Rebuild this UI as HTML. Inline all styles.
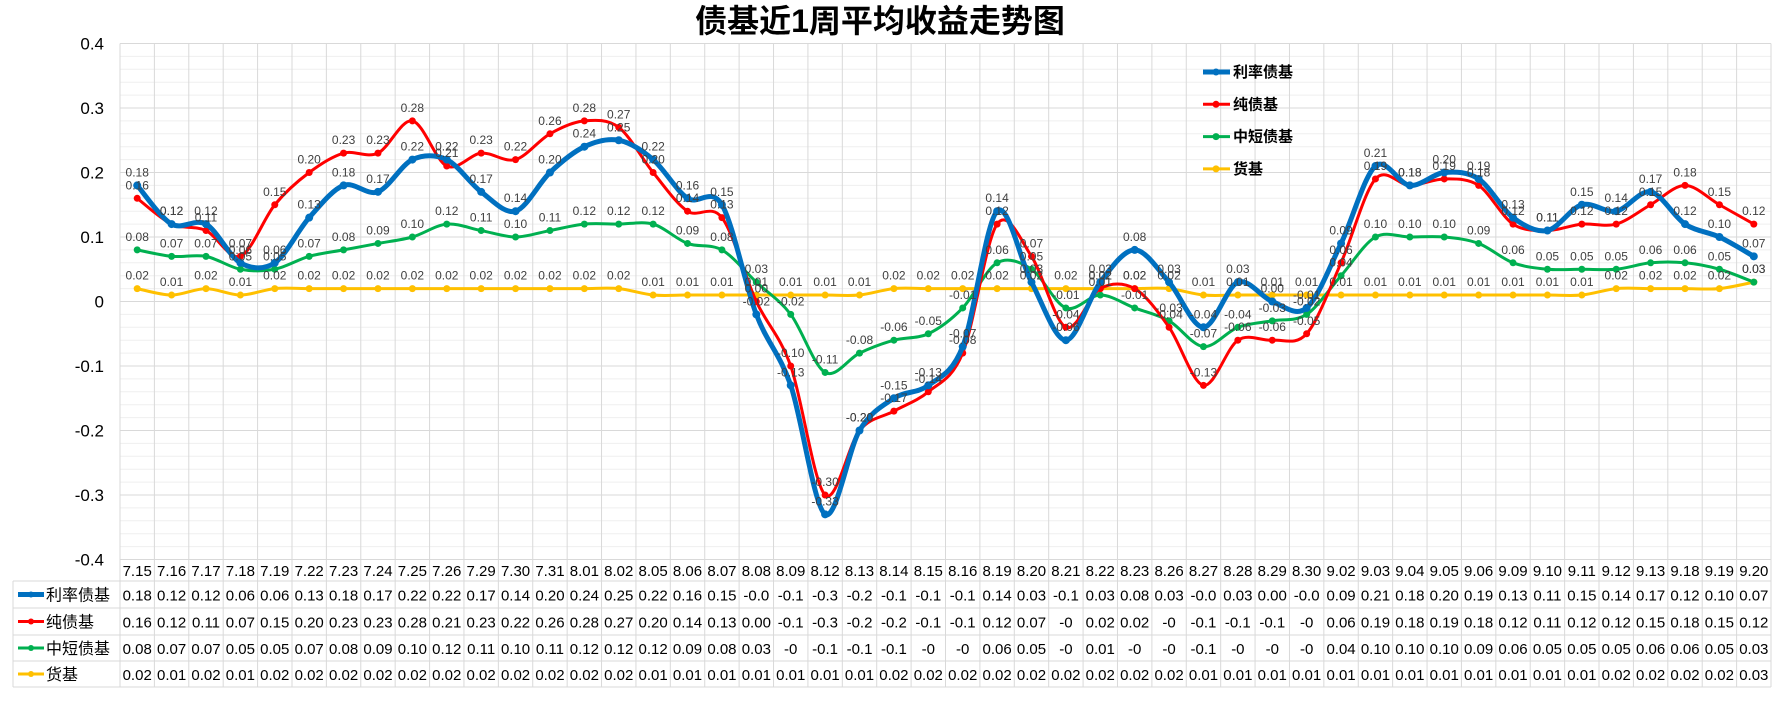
<!DOCTYPE html>
<html><head><meta charset="utf-8"><style>
body{margin:0;background:#fff;width:1780px;height:700px;overflow:hidden;font-family:"Liberation Sans","Noto Sans CJK SC",sans-serif}
</style></head><body>
<svg id="chart" width="1780" height="700" xmlns="http://www.w3.org/2000/svg" font-family="Liberation Sans, Noto Sans CJK SC, sans-serif">
<text x="880" y="32" text-anchor="middle" font-size="32" font-weight="bold" fill="#000">债基近1周平均收益走势图</text>
<g id="grid"></g><g id="lines"></g><g id="labels"></g><g id="table"></g><g id="legend"></g>
</svg>
<script>
const categories=["7.15","7.16","7.17","7.18","7.19","7.22","7.23","7.24","7.25","7.26","7.29","7.30","7.31","8.01","8.02","8.05","8.06","8.07","8.08","8.09","8.12","8.13","8.14","8.15","8.16","8.19","8.20","8.21","8.22","8.23","8.26","8.27","8.28","8.29","8.30","9.02","9.03","9.04","9.05","9.06","9.09","9.10","9.11","9.12","9.13","9.18","9.19","9.20"];
const rateBond=[0.18,0.12,0.12,0.06,0.06,0.13,0.18,0.17,0.22,0.22,0.17,0.14,0.20,0.24,0.25,0.22,0.16,0.15,-0.02,-0.13,-0.33,-0.20,-0.15,-0.13,-0.07,0.14,0.03,-0.06,0.03,0.08,0.03,-0.04,0.03,0.00,-0.01,0.09,0.21,0.18,0.20,0.19,0.13,0.11,0.15,0.14,0.17,0.12,0.10,0.07];
const pureBond=[0.16,0.12,0.11,0.07,0.15,0.20,0.23,0.23,0.28,0.21,0.23,0.22,0.26,0.28,0.27,0.20,0.14,0.13,0.00,-0.10,-0.30,-0.20,-0.17,-0.14,-0.08,0.12,0.07,-0.04,0.02,0.02,-0.04,-0.13,-0.06,-0.06,-0.05,0.06,0.19,0.18,0.19,0.18,0.12,0.11,0.12,0.12,0.15,0.18,0.15,0.12];
const shortBond=[0.08,0.07,0.07,0.05,0.05,0.07,0.08,0.09,0.10,0.12,0.11,0.10,0.11,0.12,0.12,0.12,0.09,0.08,0.03,-0.02,-0.11,-0.08,-0.06,-0.05,-0.01,0.06,0.05,-0.01,0.01,-0.01,-0.03,-0.07,-0.04,-0.03,-0.02,0.04,0.10,0.10,0.10,0.09,0.06,0.05,0.05,0.05,0.06,0.06,0.05,0.03];
const moneyFund=[0.02,0.01,0.02,0.01,0.02,0.02,0.02,0.02,0.02,0.02,0.02,0.02,0.02,0.02,0.02,0.01,0.01,0.01,0.01,0.01,0.01,0.01,0.02,0.02,0.02,0.02,0.02,0.02,0.02,0.02,0.02,0.01,0.01,0.01,0.01,0.01,0.01,0.01,0.01,0.01,0.01,0.01,0.01,0.02,0.02,0.02,0.02,0.03];
const yTicks=[0.4,0.3,0.2,0.1,0,-0.1,-0.2,-0.3,-0.4];
const yTickLabels=["0.4","0.3","0.2","0.1","0","-0.1","-0.2","-0.3","-0.4"];
const seriesNames=["利率债基","纯债基","中短债基","货基"];

const NS="http://www.w3.org/2000/svg";
const L=120,R=1771,T=43.5,B=559.5,N=categories.length,CW=(R-L)/N;
const xs=i=>L+CW*(i+0.5);
const ys=v=>T+(0.4-v)/0.8*(B-T);
function mk(tag,attrs,parent){const e=document.createElementNS(NS,tag);for(const k in attrs)e.setAttribute(k,attrs[k]);parent.appendChild(e);return e;}
const grid=document.getElementById('grid'),lines=document.getElementById('lines'),labels=document.getElementById('labels'),table=document.getElementById('table'),legend=document.getElementById('legend');
// minor grid
for(let k=0;k<=40;k++){const v=0.4-k*0.02;const y=ys(v);const major=k%5===0;
 const ln=mk('line',{x1:L,x2:R,y1:y,y2:y,stroke:major?'#d9d9d9':'#efefef','stroke-width':1},grid);
 
 }
yTicks.forEach((v,i)=>{const t=mk('text',{x:104,y:ys(v)+6,'text-anchor':'end','font-size':17,fill:'#000'},grid);t.textContent=yTickLabels[i];
 
 });
// table geometry
const rowY=[559.5,581,608,635,661,687];
for(let i=0;i<=N;i++){const x=L+CW*i;const ln=mk('line',{x1:x,x2:x,y1:T,y2:687,stroke:'#d9d9d9','stroke-width':1},grid);
 
 }
for(let r=1;r<rowY.length;r++){const ln=mk('line',{x1:13,x2:R,y1:rowY[r],y2:rowY[r],stroke:'#d9d9d9','stroke-width':1},table);
 
 }
const lb=mk('line',{x1:13,x2:13,y1:581,y2:687,stroke:'#d9d9d9'},table);


categories.forEach((c,i)=>{const t=mk('text',{x:xs(i),y:576,'text-anchor':'middle','font-size':15,fill:'#000'},table);t.textContent=c;
 
 });
const colors=['#0070c0','#ff0000','#00b050','#ffc000'];
const widths=[5,3,3,3];
const all=[rateBond,pureBond,shortBond,moneyFund];
function fmtTable(v,s){if(v>=0)return v.toFixed(2);
 if(s===0){return v.toFixed(1);}
 const r=Math.round(v*10)/10; return r===0?'-0':r.toFixed(1);}
function smooth(pts){let d=`M${pts[0][0]},${pts[0][1]}`;const t=0.16;
 for(let i=0;i<pts.length-1;i++){const p0=pts[Math.max(0,i-1)],p1=pts[i],p2=pts[i+1],p3=pts[Math.min(pts.length-1,i+2)];
  const c1=[p1[0]+(p2[0]-p0[0])*t*1.0,p1[1]+(p2[1]-p0[1])*t];
  const c2=[p2[0]-(p3[0]-p1[0])*t,p2[1]-(p3[1]-p1[1])*t];
  d+=` C${c1[0]},${c1[1]} ${c2[0]},${c2[1]} ${p2[0]},${p2[1]}`;}
 return d;}
const drawOrder=[3,2,1,0];
drawOrder.forEach(s=>{const data=all[s];const pts=data.map((v,i)=>[xs(i),ys(v)]);
 const p=mk('path',{d:smooth(pts),fill:'none',stroke:colors[s],'stroke-width':widths[s],'stroke-linejoin':'round'},lines);
 
 
 pts.forEach((pt,i)=>{const c=mk('circle',{cx:pt[0],cy:pt[1],r:s===0?4:3.5,fill:colors[s]},lines);
  
  
  const t=mk('text',{x:pt[0],y:pt[1]-9,'text-anchor':'middle','font-size':12,fill:'#404040'},labels);t.textContent=data[i].toFixed(2);
  
  });
});
all.forEach((data,s)=>{const cy=(rowY[s+1]+rowY[s+2])/2+5;
 const ln=mk('line',{x1:18,x2:44,y1:cy-5,y2:cy-5,stroke:colors[s],'stroke-width':widths[s]},table);
 
 
 const c=mk('circle',{cx:31,cy:cy-5,r:3,fill:colors[s]},table);
 
 
 const nt=mk('text',{x:46,y:cy+1,'font-size':16,fill:'#000'},table);nt.textContent=seriesNames[s];
 
 
 data.forEach((v,i)=>{const t=mk('text',{x:xs(i),y:cy+1,'text-anchor':'middle','font-size':15,fill:'#000'},table);t.textContent=fmtTable(v,s);
  
  });
});
seriesNames.forEach((n,s)=>{const y=72+s*32.3;
 const g=mk('g',{},legend);
 
 
 mk('line',{x1:1203,x2:1230,y1:y,y2:y,stroke:colors[s],'stroke-width':widths[s]},g);
 mk('circle',{cx:1216,cy:y,r:3.5,fill:colors[s]},g);
 const t=mk('text',{x:1233,y:y+5,'font-size':15,'font-weight':'bold',fill:'#000'},g);t.textContent=n;});
</script>
</body></html>
